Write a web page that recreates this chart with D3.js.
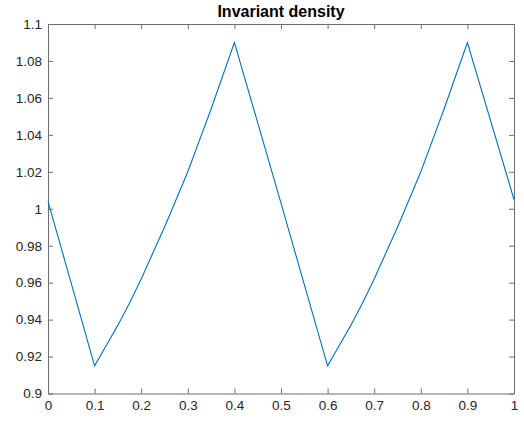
<!DOCTYPE html>
<html>
<head>
<meta charset="UTF-8">
<title>Invariant density</title>
<script src="https://d3js.org/d3.v7.min.js"></script>
<style>
  html, body { margin: 0; padding: 0; background: #fff; overflow: hidden; }
  svg { display: block; }
  text { font-family: "Liberation Sans", Arial, sans-serif; }
</style>
</head>
<body>
<svg width="524" height="421" id="mainsvg"></svg>
<script>
// values
const xs = [0, 0.1, 0.125, 0.15, 0.175, 0.2, 0.225, 0.25, 0.275, 0.3, 0.325, 0.35, 0.375, 0.4, 0.5,
            0.6, 0.625, 0.65, 0.675, 0.7, 0.725, 0.75, 0.775, 0.8, 0.825, 0.85, 0.875, 0.9, 1.0];
const ys = [1.004, 0.915, 0.926, 0.937, 0.949, 0.962, 0.976, 0.990, 1.005, 1.020, 1.037, 1.054, 1.072, 1.090, 1.003,
            0.915, 0.926, 0.937, 0.949, 0.962, 0.976, 0.990, 1.005, 1.020, 1.037, 1.054, 1.072, 1.090, 1.005];
const xTicks = [0, 0.1, 0.2, 0.3, 0.4, 0.5, 0.6, 0.7, 0.8, 0.9, 1];
const yTicks = [0.9, 0.92, 0.94, 0.96, 0.98, 1, 1.02, 1.04, 1.06, 1.08, 1.1];
const title = 'Invariant density';

const svg = d3.select('#mainsvg');
const margin = {top: 24, right: 10, bottom: 28, left: 48};
const width = +svg.attr('width');
const height = +svg.attr('height');
const innerWidth = width - margin.left - margin.right;
const innerHeight = height - margin.top - margin.bottom + 0.5;

const xScale = d3.scaleLinear().domain([0, 1]).range([0, innerWidth]);
const yScale = d3.scaleLinear().domain([0.9, 1.1]).range([innerHeight, 0]);

const g = svg.append('g').attr('transform', `translate(${margin.left}, ${margin.top})`);
const axisColor = '#6e6e6e';
const labelColor = '#262626';
const tickLen = 5;

// ticks (inward) on all four sides
const xAxis = d3.axisBottom(xScale).tickValues(xTicks).tickSizeInner(-tickLen).tickSizeOuter(0)
    .tickPadding(7).tickFormat(d3.format('~g'));
const yAxis = d3.axisLeft(yScale).tickValues(yTicks).tickSizeInner(-tickLen).tickSizeOuter(0)
    .tickPadding(6).tickFormat(d3.format('~g'));
const xTop = d3.axisTop(xScale).tickValues(xTicks).tickSizeInner(-tickLen).tickSizeOuter(0);
const yRight = d3.axisRight(yScale).tickValues(yTicks).tickSizeInner(-tickLen).tickSizeOuter(0);

const styleAxis = sel => {
    sel.selectAll('.domain').attr('stroke', axisColor);
    sel.selectAll('.tick line').attr('stroke', axisColor);
    sel.selectAll('.tick text').attr('fill', labelColor).style('font-size', '13.5px')
        .style('font-family', '"Liberation Sans", Arial, sans-serif');
};

g.append('g').attr('transform', `translate(0, ${innerHeight})`).call(xAxis).call(styleAxis);
g.append('g').call(yAxis).call(styleAxis);
// mirrored ticks only, no labels
g.append('g').call(xTop).call(styleAxis).selectAll('.tick text').remove();
g.append('g').attr('transform', `translate(${innerWidth}, 0)`).call(yRight).call(styleAxis)
    .selectAll('.tick text').remove();

// the curve
const pts = xs.map((x, i) => [x, ys[i]]);
const line = d3.line().x(d => xScale(d[0])).y(d => yScale(d[1]));
g.append('path')
    .datum(pts)
    .attr('d', line)
    .attr('fill', 'none')
    .attr('stroke', '#0072BD')
    .attr('stroke-width', 1.1);

svg.append('text')
    .attr('x', margin.left + innerWidth / 2)
    .attr('y', 17)
    .attr('text-anchor', 'middle')
    .attr('fill', '#000')
    .style('font-size', '16px')
    .style('font-weight', 'bold')
    .text(title);
</script>
</body>
</html>
